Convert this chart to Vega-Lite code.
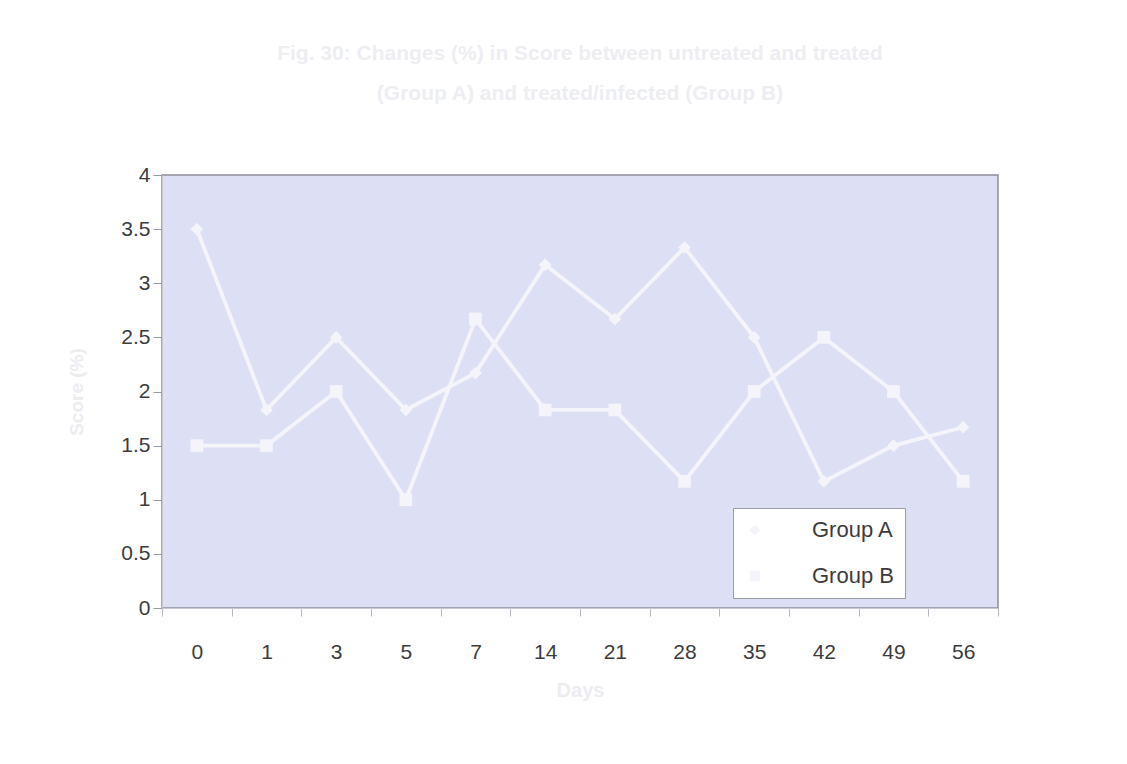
{
  "$schema": "https://vega.github.io/schema/vega-lite/v6.json",
  "width": 836,
  "height": 433,
  "autosize": {"type": "none"},
  "padding": {"left": 162, "top": 175, "right": 129, "bottom": 156},
  "background": "#ffffff",
  "title": {
    "text": ["Fig. 30: Changes (%) in Score between untreated and treated", "(Group A) and treated/infected (Group B)"],
    "color": "#ededf2",
    "fontSize": 21,
    "fontWeight": "bold",
    "font": "Liberation Sans",
    "lineHeight": 40,
    "offset": 60,
    "anchor": "middle"
  },
  "data": {
    "values": [
      {"day": "0", "group": "Group A", "value": 3.5},
      {"day": "1", "group": "Group A", "value": 1.83},
      {"day": "3", "group": "Group A", "value": 2.5},
      {"day": "5", "group": "Group A", "value": 1.83},
      {"day": "7", "group": "Group A", "value": 2.17},
      {"day": "14", "group": "Group A", "value": 3.17},
      {"day": "21", "group": "Group A", "value": 2.67},
      {"day": "28", "group": "Group A", "value": 3.33},
      {"day": "35", "group": "Group A", "value": 2.5},
      {"day": "42", "group": "Group A", "value": 1.17},
      {"day": "49", "group": "Group A", "value": 1.5},
      {"day": "56", "group": "Group A", "value": 1.67},
      {"day": "0", "group": "Group B", "value": 1.5},
      {"day": "1", "group": "Group B", "value": 1.5},
      {"day": "3", "group": "Group B", "value": 2.0},
      {"day": "5", "group": "Group B", "value": 1.0},
      {"day": "7", "group": "Group B", "value": 2.67},
      {"day": "14", "group": "Group B", "value": 1.83},
      {"day": "21", "group": "Group B", "value": 1.83},
      {"day": "28", "group": "Group B", "value": 1.17},
      {"day": "35", "group": "Group B", "value": 2.0},
      {"day": "42", "group": "Group B", "value": 2.5},
      {"day": "49", "group": "Group B", "value": 2.0},
      {"day": "56", "group": "Group B", "value": 1.17}
    ]
  },
  "encoding": {
    "x": {
      "field": "day",
      "type": "ordinal",
      "sort": null,
      "scale": {"type": "band", "paddingInner": 0, "paddingOuter": 0},
      "axis": {
        "title": "Days",
        "titleColor": "#ececf1",
        "titleFontSize": 20,
        "titleFontWeight": "bold",
        "titlePadding": 18,
        "labelAngle": 0,
        "labelFontSize": 21,
        "labelColor": "#3c3c3c",
        "labelPadding": 25,
        "labelFont": "Liberation Sans",
        "tickBand": "extent",
        "tickColor": "#b8b8c0",
        "tickSize": 8,
        "domainColor": "#c8c8d0",
        "grid": false
      }
    },
    "y": {
      "field": "value",
      "type": "quantitative",
      "scale": {"domain": [0, 4], "nice": false},
      "axis": {
        "title": "Score (%)",
        "titleColor": "#ececf1",
        "titleFontSize": 19,
        "titleFontWeight": "bold",
        "titlePadding": 34,
        "values": [0, 0.5, 1, 1.5, 2, 2.5, 3, 3.5, 4],
        "format": ".1~f",
        "labelFontSize": 21,
        "labelColor": "#3c3c3c",
        "labelPadding": 3,
        "labelFont": "Liberation Sans",
        "tickColor": "#9a9aa4",
        "tickSize": 9,
        "domainColor": "#c8c8d0",
        "grid": false
      }
    },
    "color": {
      "field": "group",
      "type": "nominal",
      "scale": {"domain": ["Group A", "Group B"], "range": ["#f4f4fa", "#f4f4fa"]},
      "legend": {
        "title": null,
        "orient": "none",
        "legendX": 571,
        "legendY": 333,
        "fillColor": "#ffffff",
        "strokeColor": "#9c9ca6",
        "padding": 11,
        "rowPadding": 24,
        "symbolSize": 80,
        "symbolFillColor": "#f4f4fa",
        "symbolStrokeColor": "#f4f4fa",
        "labelFontSize": 22,
        "labelColor": "#3c3c3c",
        "labelFont": "Liberation Sans",
        "labelOffset": 46,
        "labelExpr": "datum.label + '    '"
      }
    }
  },
  "layer": [
    {"mark": {"type": "line", "strokeWidth": 3.8}},
    {
      "mark": {"type": "point", "filled": true, "size": 160, "opacity": 1},
      "encoding": {
        "shape": {
          "field": "group",
          "type": "nominal",
          "scale": {"domain": ["Group A", "Group B"], "range": ["diamond", "square"]}
        }
      }
    }
  ],
  "config": {
    "view": {"fill": "#dde0f4", "stroke": "#8e8e9a", "strokeWidth": 1.5},
    "font": "Liberation Sans"
  }
}
